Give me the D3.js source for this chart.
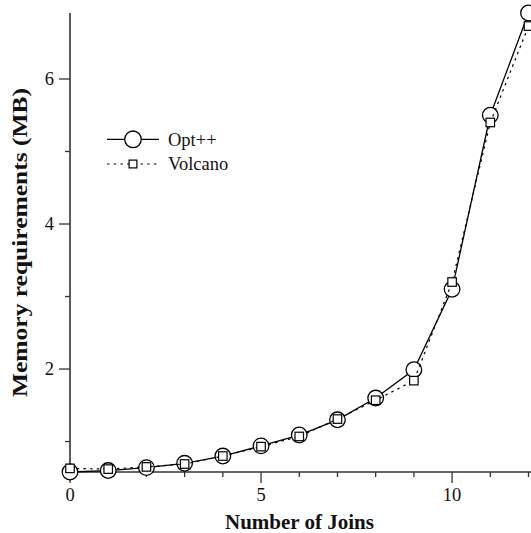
<!DOCTYPE html>
<html>
<head>
<meta charset="utf-8">
<script src="https://cdn.jsdelivr.net/npm/d3@7"></script>
<style>
  html, body { margin: 0; padding: 0; background: #fff; }
  svg { display: block; }
  text { font-family: "Liberation Serif", "Times New Roman", Times, serif; fill: #111; }
</style>
</head>
<body>
<svg id="chart" width="531" height="533"></svg>
<script>
// Number of joins in the query
const joins = [0, 1, 2, 3, 4, 5, 6, 7, 8, 9, 10, 11, 12];
// Memory requirements (MB) per optimizer
const optpp   = [0.58, 0.60, 0.64, 0.70, 0.80, 0.94, 1.09, 1.30, 1.60, 1.99, 3.10, 5.50, 6.91];
const volcano = [0.63, 0.62, 0.65, 0.69, 0.80, 0.93, 1.07, 1.31, 1.57, 1.84, 3.20, 5.40, 6.73];
const seriesNames = ["Opt++", "Volcano"];
const xMajorTicks = [0, 5, 10];
const yMajorTicks = [2, 4, 6];

const W = 531, H = 533;
const plotLeft = 70, plotBottom = 472, plotTop = 13, plotRight = 528.5;

const svg = d3.select("#chart");

const x = d3.scaleLinear().domain([0, 12]).range([plotLeft, plotRight]);
const y = d3.scaleLinear()
  .domain(d3.extent(optpp.concat(volcano)))
  .range([plotBottom, plotTop]);

const axisColor = "#333";

// X axis: line runs to the right edge
const gx = svg.append("g").attr("transform", `translate(0,${plotBottom})`);
gx.append("line").attr("x1", plotLeft).attr("x2", W).attr("y1", 0).attr("y2", 0)
  .attr("stroke", axisColor).attr("stroke-width", 1.6);
gx.selectAll("line.tick").data(d3.range(0, 13)).join("line")
  .attr("class", "tick")
  .attr("x1", d => x(d)).attr("x2", d => x(d))
  .attr("y1", 0).attr("y2", d => xMajorTicks.includes(d) ? 11 : 5)
  .attr("stroke", axisColor).attr("stroke-width", 1.3);
gx.selectAll("text").data(xMajorTicks).join("text")
  .attr("x", d => x(d)).attr("y", 29)
  .attr("text-anchor", "middle")
  .style("font-size", "18.5px")
  .text(d => d);

// Y axis
const gy = svg.append("g").attr("transform", `translate(${plotLeft},0)`);
gy.append("line").attr("x1", 0).attr("x2", 0).attr("y1", y.range()[0]).attr("y2", y.range()[1])
  .attr("stroke", axisColor).attr("stroke-width", 1.6);
gy.selectAll("line.tick").data([1, 2, 3, 4, 5, 6]).join("line")
  .attr("class", "tick")
  .attr("x1", 0).attr("x2", d => yMajorTicks.includes(d) ? -11 : -5)
  .attr("y1", d => y(d)).attr("y2", d => y(d))
  .attr("stroke", axisColor).attr("stroke-width", 1.3);
gy.selectAll("text").data(yMajorTicks).join("text")
  .attr("x", -16).attr("y", d => y(d))
  .attr("dy", "0.34em")
  .attr("text-anchor", "end")
  .style("font-size", "18.5px")
  .text(d => d);

// Axis titles
svg.append("text")
  .attr("x", 299.5).attr("y", 529)
  .attr("text-anchor", "middle")
  .style("font-size", "21px").style("font-weight", "bold")
  .text("Number of Joins");
svg.append("text")
  .attr("transform", "translate(26.5,242.5) rotate(-90)")
  .attr("text-anchor", "middle")
  .attr("textLength", 309)
  .attr("lengthAdjust", "spacingAndGlyphs")
  .style("font-size", "21px").style("font-weight", "bold")
  .text("Memory requirements (MB)");

const line = d3.line().x((d, i) => x(joins[i])).y(d => y(d));

// Opt++: solid line with open circles
svg.append("path").datum(optpp)
  .attr("d", line).attr("fill", "none")
  .attr("stroke", "#000").attr("stroke-width", 1.3);
svg.append("g").selectAll("circle").data(optpp).join("circle")
  .attr("cx", (d, i) => x(joins[i])).attr("cy", d => y(d)).attr("r", 7.8)
  .attr("fill", "#fff").attr("stroke", "#000").attr("stroke-width", 1.3);

// Volcano: dotted line with open squares
const sq = 8.5;
svg.append("path").datum(volcano)
  .attr("d", line).attr("fill", "none")
  .attr("stroke", "#000").attr("stroke-width", 1.2)
  .attr("stroke-dasharray", "2.5,4.2");
svg.append("g").selectAll("rect").data(volcano).join("rect")
  .attr("x", (d, i) => x(joins[i]) - sq / 2).attr("y", d => y(d) - sq / 2)
  .attr("width", sq).attr("height", sq)
  .attr("fill", "#fff").attr("stroke", "#000").attr("stroke-width", 1.2);

// Legend
const lg = svg.append("g");
const rows = [{name: seriesNames[0], cy: 139.3}, {name: seriesNames[1], cy: 164}];
lg.append("line").attr("x1", 107).attr("x2", 159).attr("y1", rows[0].cy).attr("y2", rows[0].cy)
  .attr("stroke", "#000").attr("stroke-width", 1.3);
lg.append("circle").attr("cx", 133).attr("cy", rows[0].cy).attr("r", 8.3)
  .attr("fill", "#fff").attr("stroke", "#000").attr("stroke-width", 1.3);
lg.append("line").attr("x1", 107).attr("x2", 159).attr("y1", rows[1].cy).attr("y2", rows[1].cy)
  .attr("stroke", "#000").attr("stroke-width", 1.2).attr("stroke-dasharray", "2.5,4.2");
lg.append("rect").attr("x", 133 - 3.9).attr("y", rows[1].cy - 3.9).attr("width", 7.8).attr("height", 7.8)
  .attr("fill", "#fff").attr("stroke", "#000").attr("stroke-width", 1.2);
lg.selectAll("text").data(rows).join("text")
  .attr("x", 168).attr("y", d => d.cy).attr("dy", "0.34em")
  .style("font-size", "18.5px")
  .text(d => d.name);
</script>
</body>
</html>
